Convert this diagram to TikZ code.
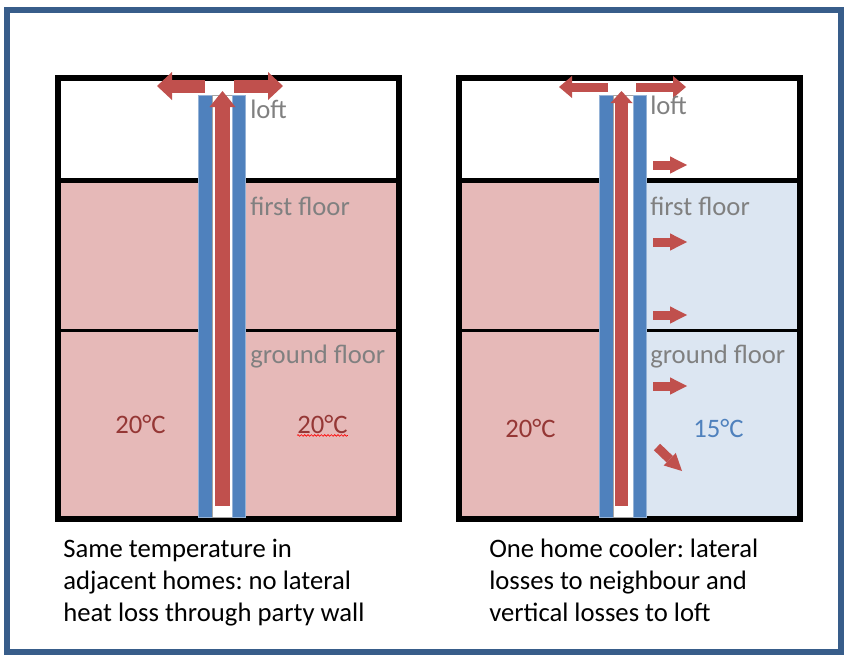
\documentclass[tikz,border=0pt]{standalone}
\usepackage{fontspec}
\setmainfont{Carlito}
\usepackage{xcolor}
\usetikzlibrary{arrows.meta,decorations.pathmorphing}
\definecolor{frameblue}{HTML}{385D8A}
\definecolor{warm}{HTML}{E6B9B8}
\definecolor{cool}{HTML}{DCE6F2}
\definecolor{wallblue}{HTML}{4F81BD}
\definecolor{heat}{HTML}{C0504D}
\definecolor{warmtext}{HTML}{953735}
\definecolor{labelgray}{HTML}{808080}
\frenchspacing
\begin{document}
\begin{tikzpicture}[x=0.75pt,y=-0.75pt,
	txt/.style={font=\fontsize{20}{24}\selectfont,anchor=base west,inner sep=0pt},
	room/.style={txt,text=labelgray},
	wall/.style={fill=wallblue,draw=wallblue!60!white,line width=0.4pt},
	gap/.style={fill=white,draw=black!35,line width=0.4pt},
	riser/.style={draw=heat,line width=#1,-{Triangle[length=12pt,width=19.5pt,line width=0pt]}},
	bigflow/.style={draw=heat,line width=9.75pt,-{Triangle[length=11.25pt,width=21pt,line width=0pt]}},
	flow/.style={draw=heat,line width=6.75pt,-{Triangle[length=#1,width=16.5pt,line width=0pt]}},
	leak/.style={draw=heat,line width=6.75pt,-{Triangle[length=12.75pt,width=13pt,line width=0pt]}}]
	\useasboundingbox (0,0) rectangle (849,665);
	\draw[frameblue,line width=4.5pt] (7,9.5) rectangle (840.5,652);
	\fill[warm] (58,180) rectangle (399,519);
	\fill[warm] (459,180) rectangle (599,519);
	\fill[cool] (646,180) rectangle (800,519);
	\draw[line width=2.25pt] (58,330.5) -- (399,330.5);
	\draw[line width=2.25pt] (459,330.5) -- (800,330.5);
	\draw[line width=3.75pt] (58,180.5) -- (399,180.5);
	\draw[line width=3.75pt] (459,180.5) -- (800,180.5);
	\draw[line width=4.5pt] (58,78) rectangle (399,519);
	\draw[line width=4.5pt] (459,78) rectangle (800,519);
	\draw[wall] (198,95) rectangle (212,517);
	\draw[gap] (212,95) rectangle (232,517);
	\draw[wall] (232,95) rectangle (245,517);
	\draw[wall] (599,95) rectangle (613,517);
	\draw[gap] (613,95) rectangle (633,517);
	\draw[wall] (633,95) rectangle (646,517);
	\draw[riser=11.25pt] (222.5,506) -- (222.5,91);
	\draw[draw=heat,line width=9.75pt,-{Triangle[length=9pt,width=16.5pt,line width=0pt]}] (621.5,506) -- (621.5,91);
	\draw[bigflow] (205,86) -- (157,86);
	\draw[bigflow] (234,86) -- (283,86);
	\draw[flow=9.75pt] (608,87) -- (559,87);
	\draw[flow=9.75pt] (636,87) -- (686,87);
	\foreach \y in {165,242,315,386}
		\draw[leak] (653,\y) -- (687,\y);
	\draw[leak] (657,447) -- (682,471);
	\node[room] (loftA) at (250,118) {loft};
	\node[room] (firstA) at (250,215) {first floor};
	\node[room] (groundA) at (250,363) {ground floor};
	\node[room] (loftB) at (650,114) {loft};
	\node[room] (firstB) at (650,215) {first floor};
	\node[room] (groundB) at (650,363) {ground floor};
	\node[txt,text=warmtext] (tempA) at (115,433) {20°C};
	\node[txt,text=warmtext] (tempB) at (297,433) {20°C};
	\draw[red,line width=0.5pt,decorate,decoration={snake,amplitude=0.6pt,segment length=2.5pt}] (tempB.south west) ++(0,2) -- ([yshift=-1.5pt]tempB.south east);
	\node[txt,text=warmtext] (tempC) at (505,437) {20°C};
	\node[txt,text=wallblue] (tempD) at (693,437) {15°C};
	\node[txt,align=left] (noteA) at (63,621) {Same temperature in\\adjacent homes: no lateral\\heat loss through party wall};
	\node[txt,align=left] (noteB) at (489,621) {One home cooler: lateral\\losses to neighbour and\\vertical losses to loft};
\end{tikzpicture}
\end{document}
